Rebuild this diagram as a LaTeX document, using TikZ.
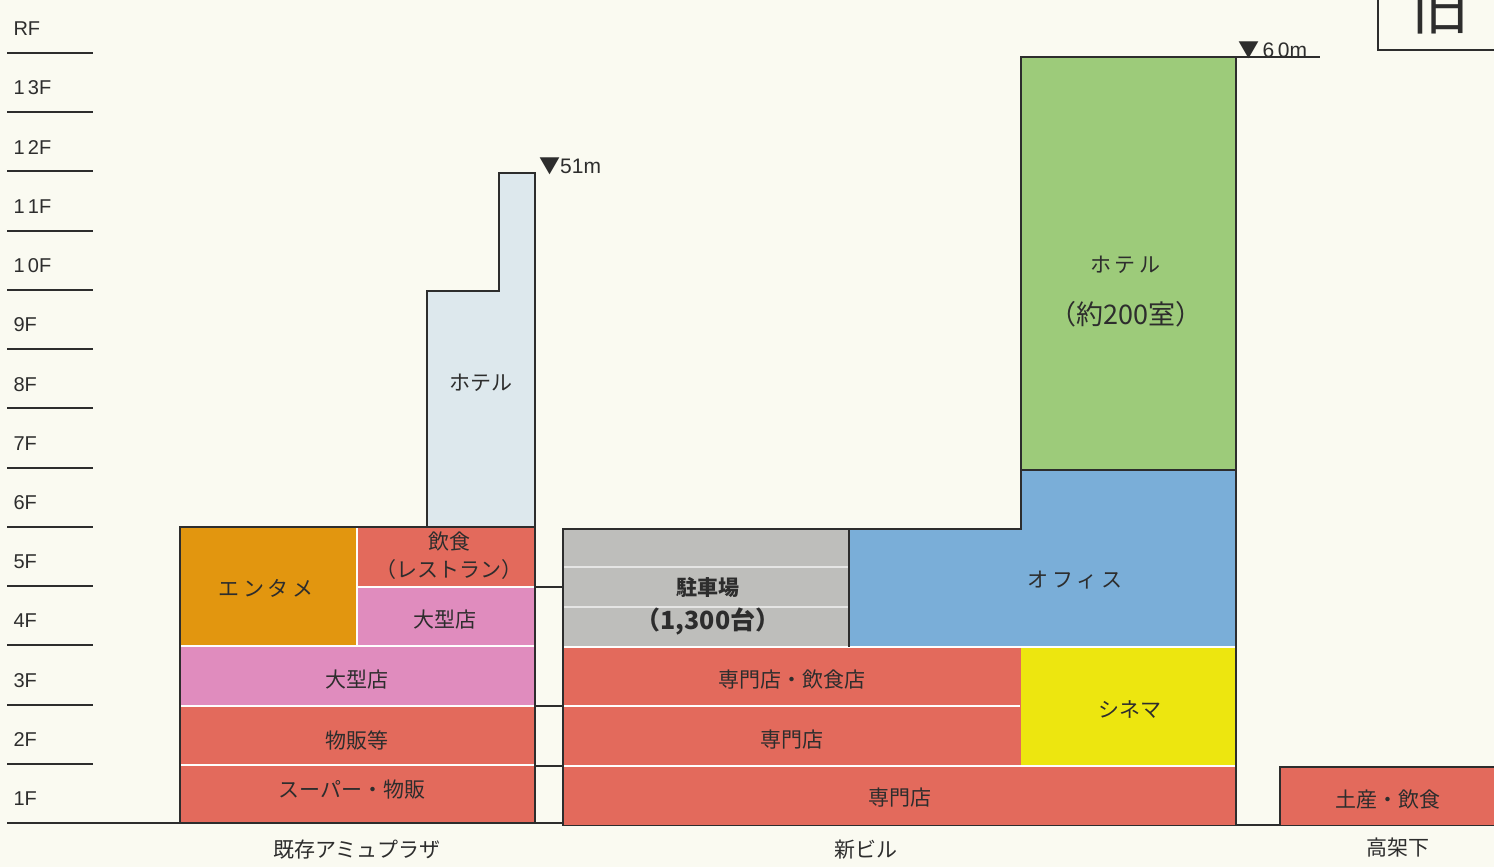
\documentclass[tikz,border=0pt]{standalone}
\usepackage{fontspec}
\setmainfont{Noto Sans CJK JP}
\newfontfamily\floorfont{Liberation Sans}
\usepackage{tikz}
\definecolor{paper}{RGB}{250,250,241}
\definecolor{shopred}{RGB}{227,106,92}
\definecolor{bigpink}{RGB}{224,140,190}
\definecolor{entorange}{RGB}{226,150,15}
\definecolor{towerblue}{RGB}{221,232,237}
\definecolor{parkgray}{RGB}{190,190,187}
\definecolor{officeblue}{RGB}{122,174,216}
\definecolor{hotelgreen}{RGB}{157,203,122}
\definecolor{cineyellow}{RGB}{237,230,15}
\definecolor{ink}{RGB}{45,45,45}

\begin{document}
\begin{tikzpicture}[x=1pt,y=-1pt,
	wall/.style={draw=ink, line width=2pt},
	split/.style={draw=white!85!paper, line width=1.6pt},
	lbl/.style={text=ink, font=\fontsize{21}{28}\selectfont},
	biglbl/.style={text=ink, font=\fontsize{27}{28}\selectfont},
	floorlbl/.style={text=ink, anchor=west, font=\floorfont\fontsize{20}{20}\selectfont}]
		\fill[paper] (0,0) rectangle (1494,867);
		\useasboundingbox (0,0) rectangle (1494,867);
		\foreach \f/\t in {1/1F,2/2F,3/3F,4/4F,5/5F,6/6F,7/7F,8/8F,9/9F,10/1\,0F,11/1\,1F,12/1\,2F,13/1\,3F,14/RF}{
			\node[floorlbl] (fl\f) at (10,823-59.23*\f+35) {\t};
		}
		\foreach \f in {1,...,13}
			\draw[ink, line width=2pt] (7,823-59.23*\f) -- (93,823-59.23*\f);
		\draw[ink, line width=2pt] (7,823) -- (563,823) -- (563,825) -- (1494,825);
		\fill[towerblue] (427,527) -- (427,291) -- (499,291) -- (499,173) -- (535,173) -- (535,527) -- cycle;
		\draw[wall] (427,527) -- (427,291) -- (499,291) -- (499,173) -- (535,173) -- (535,527);
		\fill[entorange] (180,527) rectangle (357,646);
		\fill[shopred] (357,527) rectangle (535,587);
		\fill[bigpink] (357,587) rectangle (535,646);
		\fill[bigpink] (180,646) rectangle (535,706);
		\fill[shopred] (180,706) rectangle (535,823);
		\draw[split] (357,528) -- (357,646);
		\draw[split] (357,587) -- (534,587);
		\foreach \h in {646,706,765}
			\draw[split] (181,\h) -- (534,\h);
		\draw[wall] (180,823) rectangle (535,527);
		\foreach \h in {587,706,766}
			\draw[ink, line width=1.5pt] (535,\h) -- (563,\h);
		\fill[parkgray] (563,529) rectangle (849,647);
		\draw[white!60!parkgray, line width=1.5pt] (564,567) -- (848,567);
		\draw[white!60!parkgray, line width=1.5pt] (564,607) -- (848,607);
		\fill[officeblue] (849,529) -- (1021,529) -- (1021,470) -- (1236,470) -- (1236,647) -- (849,647) -- cycle;
		\fill[hotelgreen] (1021,57) rectangle (1236,470);
		\fill[shopred] (563,647) rectangle (1021,766);
		\fill[cineyellow] (1021,647) rectangle (1236,766);
		\fill[shopred] (563,766) rectangle (1236,825);
		\draw[split] (564,647) -- (1235,647);
		\draw[split] (564,706) -- (1020,706);
		\draw[split] (564,766) -- (1235,766);
		\draw[wall] (849,529) -- (849,647);
		\draw[wall] (1021,470) -- (1236,470);
		\draw[wall] (563,825) -- (563,529) -- (1021,529) -- (1021,57) -- (1236,57) -- (1236,825);
		\draw[ink, line width=1.5pt] (1236,57) -- (1320,57);
		\fill[shopred] (1280,767) rectangle (1494,825);
		\draw[wall] (1494,767) -- (1280,767) -- (1280,825);
		\node[text=ink, anchor=south west, inner sep=0pt, font=\fontsize{21}{21}\selectfont] (lv51) at (539,175) {▼\floorfont 51m};
		\node[text=ink, anchor=south west, inner sep=0pt, font=\fontsize{21}{21}\selectfont] (lv60) at (1238,59) {▼\floorfont\,6\,0m};
		\begin{scope}
			\clip (0,0) rectangle (1494,867);
			\draw[ink, line width=1.5pt] (1378,-5) -- (1378,50) -- (1500,50);
			\node[text=ink, font=\fontsize{58}{58}\selectfont] (old) at (1440,9) {旧};
		\end{scope}
		\node[lbl] (ent) at (266,588) {エ\,ン\,タ\,メ};
		\node[lbl, align=center] (rest) at (449,556) {飲食\\（レストラン）};
		\node[lbl] (big5) at (445,620) {大型店};
		\node[lbl] (big3) at (357,680) {大型店};
		\node[lbl] (goods) at (357,740) {物販等};
		\node[lbl] (super) at (352,790) {スーパー・物販};
		\node[lbl] (htl1) at (481,383) {ホテル};
		\node[lbl, font=\bfseries\fontsize{21}{22}\selectfont] (park) at (708,587) {駐車場};
		\node[biglbl, font=\bfseries\fontsize{25}{26}\selectfont] (parkn) at (708,622) {（1,300台）};
		\node[lbl] (office) at (1075,580) {オ\,フ\,ィ\,ス};
		\node[lbl] (htl2) at (1125,265) {ホ\,テ\,ル};
		\node[biglbl] (rooms) at (1126,314) {（約200室）};
		\node[lbl] (shop3) at (792,680) {専門店・飲食店};
		\node[lbl] (shop2) at (792,740) {専門店};
		\node[lbl] (cine) at (1130,710) {シネマ};
		\node[lbl] (shop1) at (900,798) {専門店};
		\node[lbl] (souv) at (1388,800) {土産・飲食};
		\node[lbl] (amu) at (357,850) {既存アミュプラザ};
		\node[lbl] (newb) at (866,850) {新ビル};
		\node[lbl] (rail) at (1398,848) {高架下};
	\end{tikzpicture}
\end{document}
